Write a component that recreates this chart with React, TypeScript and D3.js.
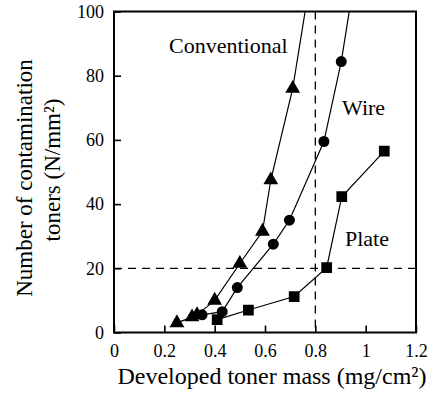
import React, { useEffect, useRef } from 'react';
import * as d3 from 'd3';

// readings (x: mg/cm2, y: N/mm2); last point of two series lies above the frame
const conventionalX = [0.25, 0.31, 0.33, 0.4, 0.5, 0.59, 0.623, 0.71, 0.78];
const conventionalY = [3, 4.8, 5.5, 10, 21.5, 31.5, 47.5, 76, 110];
const wireX = [0.35, 0.43, 0.49, 0.633, 0.697, 0.834, 0.903, 0.955];
const wireY = [5.5, 6.5, 14, 27.5, 35, 59.5, 84.4, 110];
const plateX = [0.41, 0.534, 0.716, 0.845, 0.905, 1.074];
const plateY = [4, 7, 11.2, 20.2, 42.3, 56.5];
const xTicks = [0, 0.2, 0.4, 0.6, 0.8, 1, 1.2];
const yTicks = [0, 20, 40, 60, 80, 100];
const seriesNames = ['Conventional', 'Wire', 'Plate'];
const markerCount = [8, 7, 6];

const App = () => {
  const ref = useRef<SVGSVGElement>(null);

  useEffect(() => {
    const width = 432, height = 404;
    const left = 114, right = 416, top = 11.5, bottom = 332.5;
    const font = 'Liberation Serif, Times New Roman, serif';

    const svg = d3.select(ref.current);
    svg.selectAll('*').remove();
    svg.attr('width', width).attr('height', height).style('font-family', font);

    const x = d3.scaleLinear().domain([0, 1.2]).range([left, right]);
    const y = d3.scaleLinear().domain([0, 100]).range([bottom, top]);

    svg.append('defs').append('clipPath').attr('id', 'plot')
      .append('rect')
      .attr('x', left).attr('y', top)
      .attr('width', right - left).attr('height', bottom - top);

    // axes, ticks pointing inward
    const xAxis = svg.append('g')
      .attr('transform', `translate(0,${bottom})`)
      .call(d3.axisBottom(x).tickValues(xTicks).tickFormat(d => String(d)).tickSize(-7).tickPadding(12));
    const yAxis = svg.append('g')
      .attr('transform', `translate(${left},0)`)
      .call(d3.axisLeft(y).tickValues(yTicks).tickFormat(d => String(d)).tickSize(-7).tickPadding(10));
    [xAxis, yAxis].forEach(g => {
      g.attr('font-family', null).attr('font-size', null);
      g.select('.domain').remove();
      g.selectAll('line').attr('stroke', '#000').attr('stroke-width', 1.6);
      g.selectAll('text').style('font-family', font).style('font-size', '18px').attr('fill', '#000');
    });

    // reference lines
    const dashed = svg.append('g')
      .attr('stroke', '#000').attr('stroke-width', 1.3).attr('stroke-dasharray', '8,6');
    dashed.append('line')
      .attr('x1', x(0.8)).attr('x2', x(0.8)).attr('y1', top).attr('y2', bottom);
    dashed.append('line')
      .attr('x1', left).attr('x2', right).attr('y1', y(20)).attr('y2', y(20));

    const line = d3.line<[number, number]>().x(d => x(d[0])).y(d => y(d[1]));
    const plot = svg.append('g').attr('clip-path', 'url(#plot)');

    const series = [
      { xs: conventionalX, ys: conventionalY, symbol: d3.symbolTriangle, size: 95 },
      { xs: wireX, ys: wireY, symbol: d3.symbolCircle, size: 95 },
      { xs: plateX, ys: plateY, symbol: d3.symbolSquare, size: 115 },
    ];

    series.forEach((s, k) => {
      const pts = s.xs.map((v, i) => [v, s.ys[i]] as [number, number]);
      plot.append('path')
        .attr('d', line(pts))
        .attr('fill', 'none')
        .attr('stroke', '#000')
        .attr('stroke-width', 1.2);
      plot.selectAll(null)
        .data(pts.slice(0, markerCount[k]))
        .enter().append('path')
        .attr('transform', d => `translate(${x(d[0])},${y(d[1])})`)
        .attr('d', d3.symbol().type(s.symbol).size(s.size)())
        .attr('fill', '#000');
    });

    // frame
    svg.append('rect')
      .attr('x', left).attr('y', top)
      .attr('width', right - left).attr('height', bottom - top)
      .attr('fill', 'none').attr('stroke', '#000').attr('stroke-width', 2);

    // series labels
    const labelPos = [[169, 53], [342, 115], [345, 246]];
    svg.selectAll('.label')
      .data(seriesNames)
      .enter().append('text')
      .attr('class', 'label')
      .attr('x', (d, i) => labelPos[i][0])
      .attr('y', (d, i) => labelPos[i][1])
      .style('font-size', '22px')
      .text(d => d);

    // axis titles
    svg.append('text')
      .attr('x', 272)
      .attr('y', 384)
      .attr('text-anchor', 'middle')
      .style('font-size', '24px')
      .text('Developed toner mass (mg/cm²)');

    const yTitle = svg.append('text')
      .attr('transform', 'translate(0,178) rotate(-90)')
      .attr('text-anchor', 'middle')
      .style('font-size', '23px');
    yTitle.append('tspan').attr('x', 0).attr('y', 32).text('Number of contamination');
    yTitle.append('tspan').attr('x', 8).attr('y', 60).text('toners (N/mm²)');
  }, []);

  return <svg ref={ref} style={{ position: 'absolute', left: 0, top: 0 }}></svg>;
};

export default App;
